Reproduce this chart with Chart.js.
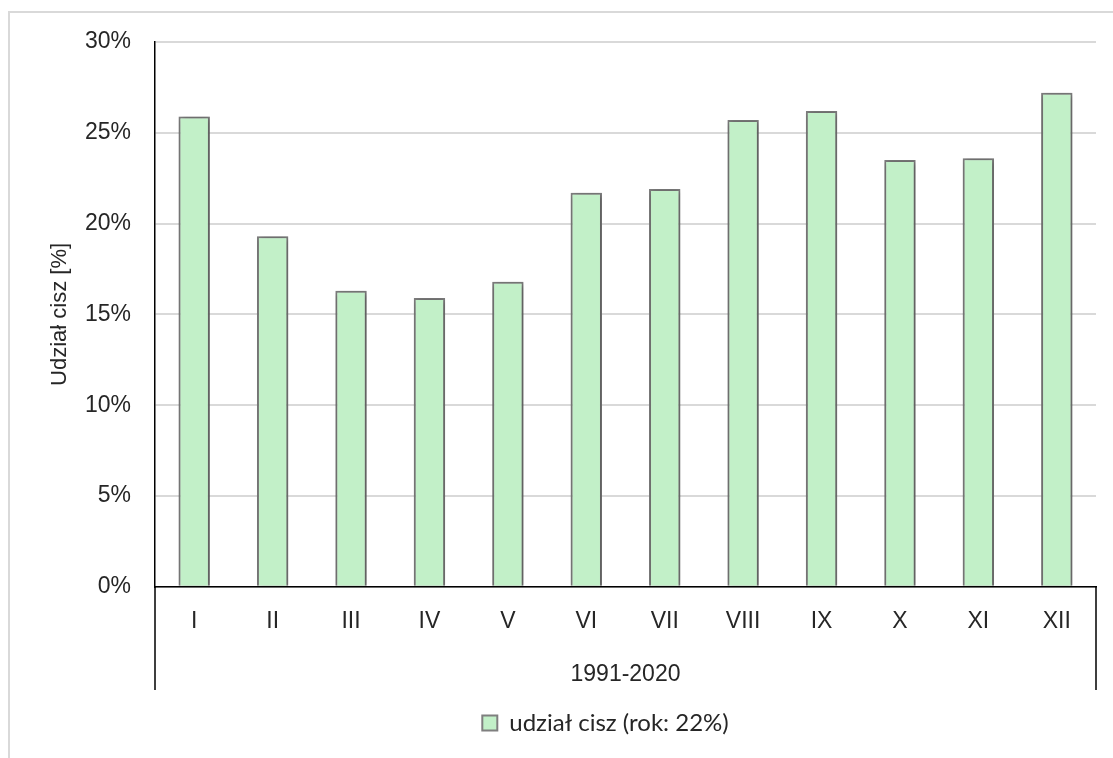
<!DOCTYPE html>
<html>
<head>
<meta charset="utf-8">
<script src="https://cdn.jsdelivr.net/npm/chart.js@4"></script>
<style>
  html, body { margin: 0; padding: 0; background: #fff; }
  #wrap { position: relative; width: 1113px; height: 758px; }
  #frame { position: absolute; left: 8px; top: 11px; width: 1200px; height: 800px;
           border-top: 2px solid #d9d9d9; border-left: 2px solid #d9d9d9; }
  canvas { position: absolute; left: 0; top: 0; }
</style>
</head>
<body>
<div id="wrap">
  <div id="frame"></div>
  <canvas id="chart" width="1113" height="758"></canvas>
</div>
<script>
// months (Roman numerals) and share of calms, in %
const months = ['I', 'II', 'III', 'IV', 'V', 'VI', 'VII', 'VIII', 'IX', 'X', 'XI', 'XII'];
const calmShare = [25.9, 19.3, 16.3, 15.9, 16.8, 21.7, 21.9, 25.7, 26.2, 23.5, 23.6, 27.2];
const seriesLabel = 'udział cisz (rok: 22%)';
const periodLabel = '1991-2020';
const yTitle = 'Udział cisz [%]';

Chart.defaults.font.family = '"Liberation Sans", Arial, sans-serif';
Chart.defaults.color = '#262626';

// soft shadow under the bars
const barShadow = {
    id: 'barShadow',
    beforeDatasetDraw(chart) {
        const c = chart.ctx;
        c.save();
        c.shadowColor = 'rgba(0,0,0,0.4)';
        c.shadowBlur = 6;
        c.shadowOffsetX = 1;
        c.shadowOffsetY = 1;
    },
    afterDatasetDraw(chart) {
        chart.ctx.restore();
    }
};

// frame lines around the category group (multi-level axis look)
const groupFrame = {
    id: 'groupFrame',
    afterLayout(chart) {
        // legend sits a bit right of the canvas centre
        chart.legend.left += 34;
        chart.legend.right += 34;
    },
    afterDraw(chart) {
        const c = chart.ctx;
        const area = chart.chartArea;
        const bottom = chart.scales.x.bottom;
        c.save();
        c.strokeStyle = '#000';
        c.lineWidth = 1.5;
        c.beginPath();
        c.moveTo(area.left, area.bottom);
        c.lineTo(area.left, bottom);
        c.moveTo(area.right, area.bottom);
        c.lineTo(area.right, bottom);
        c.stroke();
        c.restore();
    }
};

const ctx = document.getElementById('chart').getContext('2d');
new Chart(ctx, {
    type: 'bar',
    data: {
        labels: months,
        datasets: [{
            label: seriesLabel,
            data: calmShare,
            backgroundColor: '#c2f0c8',
            borderColor: '#7f7f7f',
            borderWidth: 2,
            barPercentage: 0.4,
            categoryPercentage: 1
        }]
    },
    options: {
        responsive: false,
        animation: false,
        layout: { padding: { top: 42, right: 17, left: 47, bottom: 13 } },
        plugins: {
            tooltip: { enabled: false },
            legend: {
                position: 'bottom',
                labels: {
                    boxWidth: 15,
                    boxHeight: 15,
                    padding: 21,
                    font: { size: 24, family: 'Lato, "Liberation Sans", sans-serif' },
                    color: '#262626'
                }
            }
        },
        scales: {
            x: {
                grid: { display: false, drawTicks: false },
                border: { color: '#000', width: 1.5 },
                ticks: { padding: 21, font: { size: 23 }, color: '#262626' },
                title: {
                    display: true,
                    text: periodLabel,
                    font: { size: 23 },
                    color: '#262626',
                    padding: { top: 4, bottom: 2 }
                }
            },
            y: {
                min: 0,
                max: 30,
                afterFit(scale) { scale.width = 108; },
                grid: { color: '#d9d9d9', lineWidth: 2, drawTicks: false },
                border: { color: '#000', width: 1.5 },
                ticks: {
                    stepSize: 5,
                    padding: 24,
                    font: { size: 23 },
                    color: '#262626',
                    callback: v => v + '%'
                },
                title: {
                    display: true,
                    text: yTitle,
                    font: { size: 22 },
                    color: '#262626',
                    padding: { top: 0, bottom: 0 }
                }
            }
        }
    },
    plugins: [barShadow, groupFrame]
});
</script>
</body>
</html>
